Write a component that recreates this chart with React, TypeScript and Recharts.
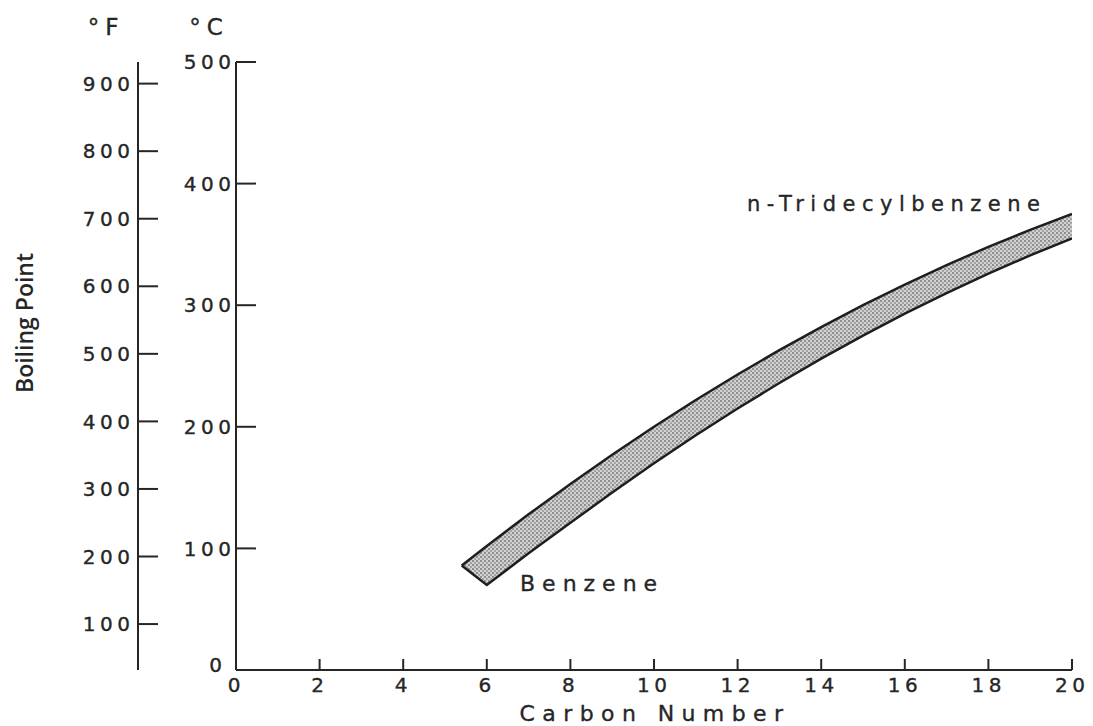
import React from "react";
import { ComposedChart, Area, XAxis, YAxis, Customized } from "recharts";

document.body.style.margin = "0";

// Carbon number along the band (first point is the slanted cut at the benzene end)
const carbonNumbers = [5.4, 6, 7, 8, 9, 10, 11, 12, 13, 14, 15, 16, 17, 18, 19, 20];
// upper and lower edge of the boiling point band, °C
const upperBoilC = [86, 102, 128, 153, 177, 200, 222, 243, 263, 282, 300, 317, 333, 348, 362, 375];
const lowerBoilC = [86, 70, 96, 121, 146, 170, 193, 215, 236, 256, 275, 293, 310, 326, 341, 355];

const carbonTicks = [0, 2, 4, 6, 8, 10, 12, 14, 16, 18, 20];
const celsiusTicks = [0, 100, 200, 300, 400, 500];
const fahrenheitTicks = [100, 200, 300, 400, 500, 600, 700, 800, 900];

const bandData = carbonNumbers.map((c, i) => ({
  carbon: c,
  band: [lowerBoilC[i], upperBoilC[i]],
}));

const INK = "#262626";
const FONT = "'DejaVu Sans', sans-serif";
const Y_MARGIN = 8;
const X_MARGIN = 7;
const TICK_LS = 4.5;

const textInk = { fill: INK, stroke: INK, strokeWidth: 0.35, fontFamily: FONT };

function LeftTick(props: any) {
  const { x, y, payload, gap = 6 } = props;
  const ax = x + Y_MARGIN;
  // the "0" at the corner sits a little up and left, clear of the x labels
  const isCorner = payload.value === 0;
  return (
    <g>
      <line x1={ax} x2={ax + 20} y1={y} y2={y} stroke={INK} strokeWidth={2} />
      <text
        x={ax - (isCorner ? 14 : gap) + TICK_LS}
        y={isCorner ? y - 5 : y}
        dy="0.36em"
        textAnchor="end"
        fontSize={20}
        letterSpacing={TICK_LS}
        {...textInk}
      >
        {payload.value}
      </text>
    </g>
  );
}

function BottomTick(props: any) {
  const { x, y, payload } = props;
  const ay = y - X_MARGIN;
  return (
    <g>
      {payload.value !== 0 && (
        <line x1={x} x2={x} y1={ay} y2={ay - 11} stroke={INK} strokeWidth={2} />
      )}
      <text
        x={x + TICK_LS / 2 - 2}
        y={y + 1}
        dy="0.72em"
        textAnchor="middle"
        fontSize={20}
        letterSpacing={TICK_LS}
        {...textInk}
      >
        {payload.value}
      </text>
    </g>
  );
}

function Annotations() {
  return (
    <g>
      <text x={106} y={35} textAnchor="middle" fontSize={23} letterSpacing={6} {...textInk}>°F</text>
      <text x={209} y={35} textAnchor="middle" fontSize={23} letterSpacing={6} {...textInk}>°C</text>
      <text
        x={0}
        y={0}
        transform="translate(33 323) rotate(-90)"
        textAnchor="middle"
        fontSize={23}
        fontWeight={600}
        fontFamily="'Open Sans', sans-serif"
        fill={INK}
      >
        Boiling Point
      </text>
      <text x={520} y={591} fontSize={22} letterSpacing={7} {...textInk}>Benzene</text>
      <text x={747} y={211} fontSize={21} letterSpacing={6.5} {...textInk}>n-Tridecylbenzene</text>
      <text x={655} y={721} textAnchor="middle" fontSize={22} letterSpacing={7.4} {...textInk}>Carbon Number</text>
    </g>
  );
}

export default function App() {
  return (
    <div style={{ width: 1093, height: 726, overflow: "hidden", background: "#fff" }}>
      <ComposedChart
        width={1093}
        height={726}
        data={bandData}
        margin={{ top: 62, right: 21, bottom: 0, left: 0 }}
      >
        <defs>
          <pattern id="stipple" width="4" height="4" patternUnits="userSpaceOnUse">
            <rect width="4" height="4" fill="#d2d2d2" />
            <circle cx="1" cy="1" r="0.9" fill="#6e6e6e" />
            <circle cx="3" cy="3" r="0.9" fill="#8e8e8e" />
          </pattern>
        </defs>
        <XAxis
          dataKey="carbon"
          type="number"
          domain={[0, 20]}
          ticks={carbonTicks}
          height={56}
          tickSize={0}
          tickMargin={X_MARGIN}
          tickLine={false}
          tick={<BottomTick />}
          axisLine={{ stroke: INK, strokeWidth: 2 }}
          allowDataOverflow
        />
        <YAxis
          yAxisId="c"
          type="number"
          domain={[0, 500]}
          ticks={celsiusTicks}
          width={98}
          tickSize={0}
          tickMargin={Y_MARGIN}
          tickLine={false}
          tick={<LeftTick gap={5} />}
          axisLine={{ stroke: INK, strokeWidth: 2 }}
          allowDataOverflow
        />
        <YAxis
          yAxisId="f"
          type="number"
          domain={[32, 932]}
          ticks={fahrenheitTicks}
          width={138}
          tickSize={0}
          tickMargin={Y_MARGIN}
          tickLine={false}
          tick={<LeftTick gap={8} />}
          axisLine={{ stroke: INK, strokeWidth: 2 }}
          allowDataOverflow
        />
        <Area
          yAxisId="c"
          dataKey="band"
          type="linear"
          stroke="#1e1e1e"
          strokeWidth={2.5}
          fill="url(#stipple)"
          fillOpacity={1}
          isAnimationActive={false}
          dot={false}
          activeDot={false}
        />
        <Customized component={Annotations} />
      </ComposedChart>
    </div>
  );
}
